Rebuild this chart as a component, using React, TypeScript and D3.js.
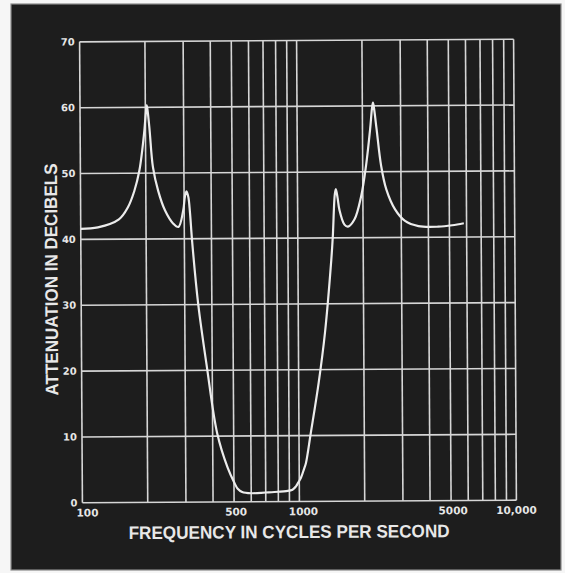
import React from "react";
import * as d3 from "d3";

// Frequency (Hz) and attenuation (dB)
const freqHz = [
  100, 120, 150, 165, 177, 187, 197, 201, 203, 205, 209, 216, 228, 245, 267, 282,
  297, 303, 308, 314, 319, 326, 346, 378, 420, 468, 502, 520, 545, 600, 700, 800,
  870, 930, 965, 990, 1018, 1054, 1074, 1131, 1236, 1326, 1425, 1450, 1485, 1502,
  1530, 1557, 1642, 1704, 1828, 1964, 2072, 2170, 2215, 2240, 2265, 2323, 2432,
  2566, 2807, 3122, 3600, 4446, 5154, 5828,
];
const attenuationDb = [
  41.6, 41.8, 43.0, 44.8, 47.3, 50.4, 56.0, 59.2, 60.3, 59.4, 56.5, 50.9, 47.3, 44.3, 42.3, 41.8,
  44.3, 46.5, 47.2, 46.3, 44.0, 39.5, 30.1, 20.5, 10.4, 5.2, 2.9, 2.0, 1.5, 1.3, 1.4, 1.5,
  1.6, 1.8, 2.3, 2.9, 3.6, 5.0, 5.8, 10.2, 18.0, 25.6, 36.7, 40.2, 46.6, 47.4,
  46.0, 44.3, 42.0, 41.7, 42.8, 46.3, 50.9, 56.5, 59.6, 60.5, 59.6, 56.5, 50.9,
  47.3, 44.3, 42.5, 41.7, 41.6, 41.8, 42.1,
];

const yTickValues = [0, 10, 20, 30, 40, 50, 60, 70];
const yTickLabels = ["0", "10", "20", "30", "40", "50", "60", "70"];
const gridFreqs = [
  100, 200, 300, 400, 500, 600, 700, 800, 900, 1000,
  2000, 3000, 4000, 5000, 6000, 7000, 8000, 9000, 10000,
];
const xLabelValues = [100, 500, 1000, 5000, 10000];
const xLabelTexts = ["100", "500", "1000", "5000", "10,000"];
const xTitle = "FREQUENCY IN CYCLES PER SECOND";
const yTitle = "ATTENUATION IN DECIBELS";

export default function App() {
  const W = 565;
  const H = 573;
  const L = 81;
  const R = 515;
  const T = 40.5;
  const B = 501.5;

  const x = d3.scaleLog().domain([100, 10000]).range([L, R]);
  const y = d3.scaleLinear().domain([0, 70]).range([B, T]);

  const pts: [number, number][] = freqHz.map((f, i) => [f, attenuationDb[i]]);
  const line = d3
    .line<[number, number]>()
    .x((d) => x(d[0]))
    .y((d) => y(d[1]))
    .curve(d3.curveCatmullRom.alpha(0.5));

  const gridColor = "#d6d6d6";
  const labelDx = [5, 2, 4, 2, 0];

  return (
    <svg
      width={W}
      height={H}
      style={{ position: "absolute", left: 0, top: 0, background: "#f6f6f6" }}
    >
      <rect x={11} y={4} width={550} height={566} fill="#1d1d1d" stroke="#8a8a8a" strokeWidth={1.2} />
      <g transform="rotate(-0.35 298 271)">
        {gridFreqs.map((f) => (
          <line key={"v" + f} x1={x(f)} x2={x(f)} y1={T} y2={B} stroke={gridColor} strokeWidth={1.6} />
        ))}
        {yTickValues.map((v) => (
          <line key={"h" + v} x1={L} x2={R} y1={y(v)} y2={y(v)} stroke={gridColor} strokeWidth={1.6} />
        ))}
        <path d={line(pts) || ""} fill="none" stroke="#ececec" strokeWidth={2.2} strokeLinejoin="round" />
        {yTickValues.map((v, i) => (
          <text
            key={"yl" + v}
            x={L - 5}
            y={y(v)}
            dy="0.35em"
            textAnchor="end"
            fill="#e6e6e6"
            fontFamily="DejaVu Sans"
            fontWeight="bold"
            fontSize={10}
          >
            {yTickLabels[i]}
          </text>
        ))}
        {xLabelValues.map((v, i) => (
          <text
            key={"xl" + v}
            x={x(v) + labelDx[i]}
            y={B + 10}
            dy="0.35em"
            textAnchor="middle"
            fill="#e6e6e6"
            fontFamily="DejaVu Sans"
            fontWeight="bold"
            fontSize={10.5}
          >
            {xLabelTexts[i]}
          </text>
        ))}
        <text
          x={287.5}
          y={538}
          textAnchor="middle"
          fill="#e8e8e8"
          fontFamily="Liberation Sans"
          fontWeight="bold"
          fontSize={18}
          textLength={321}
          lengthAdjust="spacingAndGlyphs"
        >
          {xTitle}
        </text>
        <text
          transform="translate(57.5 278) rotate(-90)"
          textAnchor="middle"
          fill="#e8e8e8"
          fontFamily="Liberation Sans"
          fontWeight="bold"
          fontSize={18}
          textLength={232}
          lengthAdjust="spacingAndGlyphs"
        >
          {yTitle}
        </text>
      </g>
    </svg>
  );
}
